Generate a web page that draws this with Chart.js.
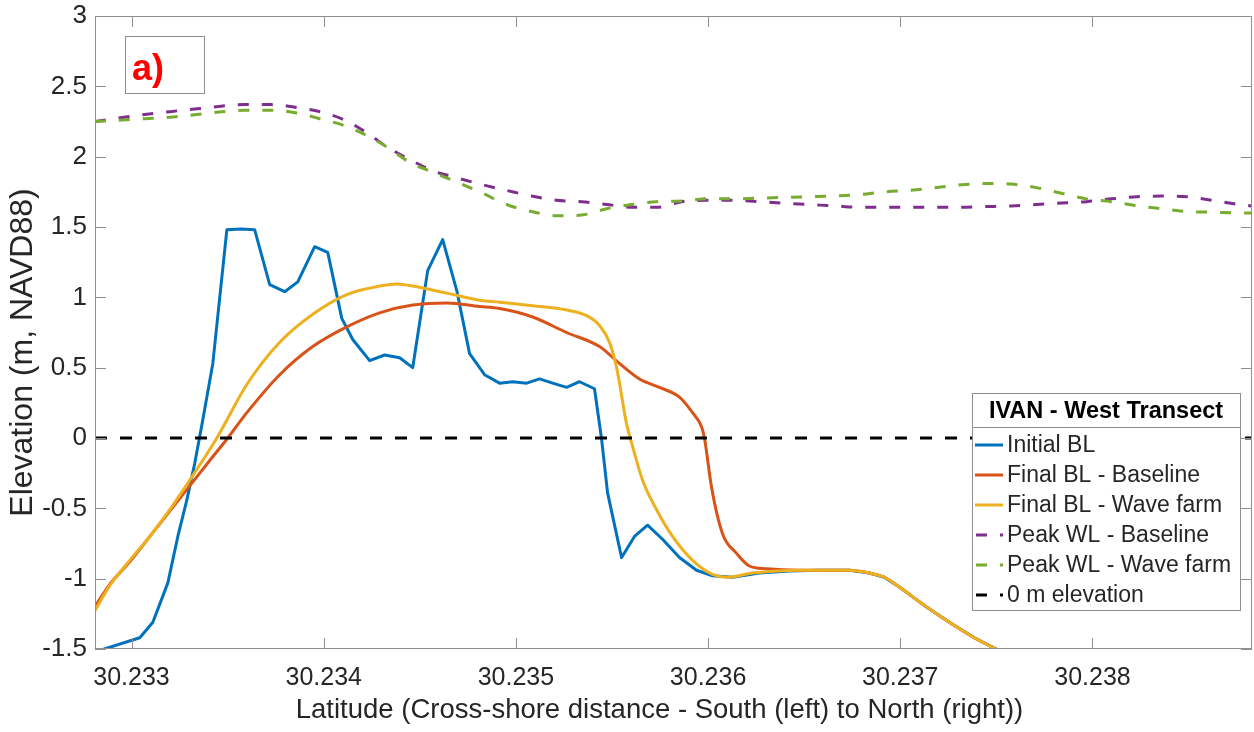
<!DOCTYPE html>
<html>
<head>
<meta charset="utf-8">
<script src="https://cdn.jsdelivr.net/npm/chart.js@4.4.1/dist/chart.umd.min.js"></script>
<style>
  html, body { margin: 0; padding: 0; background: #fff; }
  #wrap { width: 1254px; height: 732px; }
</style>
</head>
<body>
<div id="wrap"><canvas id="chart" width="1254" height="732"></canvas></div>
<script>
// DATA (latitude, elevation m NAVD88)
const initLat = [30.232835, 30.233043, 30.233111, 30.233189, 30.233241, 30.233288, 30.233329, 30.233371, 30.233423, 30.233496,
  30.233568, 30.233641, 30.233719, 30.233797, 30.233865, 30.233953, 30.234021, 30.234094, 30.234151, 30.234239,
  30.234317, 30.234395, 30.234463, 30.234541, 30.234619, 30.234692, 30.234759, 30.234837, 30.234915, 30.234983,
  30.235056, 30.235123, 30.235191, 30.235264, 30.235331, 30.235409, 30.235446, 30.235477, 30.235550, 30.235617,
  30.235685, 30.235763, 30.235851, 30.235940, 30.236023, 30.236127, 30.236267, 30.236423, 30.236579, 30.236735,
  30.236839, 30.236917, 30.236995, 30.237125, 30.237255, 30.237385, 30.237541];
const initElev = [-1.51, -1.42, -1.31, -1.03, -0.70, -0.44, -0.18, 0.13, 0.53, 1.48,
  1.485, 1.48, 1.09, 1.04, 1.11, 1.36, 1.32, 0.85, 0.70, 0.55,
  0.59, 0.57, 0.50, 1.19, 1.41, 1.05, 0.60, 0.45, 0.39, 0.40,
  0.39, 0.42, 0.39, 0.36, 0.40, 0.35, -0.01, -0.39, -0.85, -0.70,
  -0.62, -0.72, -0.85, -0.94, -0.98, -0.99, -0.96, -0.945, -0.94, -0.94,
  -0.96, -0.99, -1.06, -1.19, -1.31, -1.42, -1.53];

const baseLat = [30.232809, 30.232887, 30.232991, 30.233095, 30.233199, 30.233303, 30.233407, 30.233501, 30.233600, 30.233771,
  30.233943, 30.234120, 30.234291, 30.234463, 30.234640, 30.234811, 30.234915, 30.235087, 30.235264, 30.235435,
  30.235539, 30.235643, 30.235747, 30.235851, 30.235919, 30.235966, 30.235981, 30.236018, 30.236075, 30.236148,
  30.236215, 30.236304, 30.236475, 30.236579, 30.236735, 30.236839, 30.236917, 30.236995, 30.237125, 30.237255,
  30.237385, 30.237541];
const baseElev = [-1.20, -1.04, -0.88, -0.70, -0.52, -0.34, -0.16, 0.0, 0.18, 0.45,
  0.65, 0.79, 0.89, 0.945, 0.96, 0.935, 0.92, 0.86, 0.75, 0.65,
  0.53, 0.42, 0.36, 0.29, 0.18, 0.08, 0.0, -0.35, -0.68, -0.82,
  -0.91, -0.93, -0.94, -0.94, -0.94, -0.96, -0.99, -1.06, -1.19, -1.31,
  -1.42, -1.53];

const farmLat = [30.232809, 30.232887, 30.232991, 30.233095, 30.233199, 30.233303, 30.233444, 30.233600, 30.233771, 30.233943,
  30.234120, 30.234291, 30.234380, 30.234463, 30.234640, 30.234811, 30.234915, 30.235087, 30.235264, 30.235368,
  30.235435, 30.235487, 30.235524, 30.235576, 30.235607, 30.235659, 30.235732, 30.235815, 30.235919, 30.236023,
  30.236096, 30.236231, 30.236356, 30.236475, 30.236579, 30.236735, 30.236839, 30.236917, 30.236995, 30.237125,
  30.237255, 30.237385, 30.237541];
const farmElev = [-1.23, -1.05, -0.87, -0.70, -0.51, -0.30, 0.0, 0.38, 0.68, 0.88,
  1.02, 1.08, 1.095, 1.08, 1.03, 0.98, 0.965, 0.94, 0.91, 0.87,
  0.80, 0.68, 0.50, 0.10, -0.06, -0.30, -0.51, -0.70, -0.87, -0.97,
  -0.99, -0.96, -0.945, -0.94, -0.94, -0.94, -0.96, -0.99, -1.06, -1.19,
  -1.31, -1.42, -1.53];

const wlLat = [30.232809, 30.233069, 30.233199, 30.233340, 30.233475, 30.233589, 30.233730, 30.233860, 30.233979, 30.234109,
  30.234224, 30.234328, 30.234447, 30.234567, 30.234692, 30.234827, 30.234952, 30.235082, 30.235212, 30.235342,
  30.235472, 30.235602, 30.235732, 30.235862, 30.235992, 30.236127, 30.236257, 30.236387, 30.236517, 30.236657,
  30.236787, 30.236917, 30.237047, 30.237188, 30.237318, 30.237448, 30.237578, 30.237708, 30.237838, 30.237968,
  30.238098, 30.238233, 30.238363, 30.238493, 30.238623, 30.238763, 30.238826];
const wlBase = [2.25, 2.30, 2.32, 2.34, 2.36, 2.37, 2.37, 2.35, 2.32, 2.26,
  2.17, 2.07, 1.98, 1.90, 1.85, 1.80, 1.76, 1.72, 1.69, 1.68,
  1.66, 1.64, 1.64, 1.68, 1.69, 1.69, 1.68, 1.67, 1.66, 1.65,
  1.64, 1.64, 1.64, 1.64, 1.64, 1.645, 1.65, 1.66, 1.67, 1.68,
  1.70, 1.715, 1.72, 1.715, 1.69, 1.66, 1.65];
const wlFarm = [2.25, 2.27, 2.28, 2.30, 2.32, 2.33, 2.33, 2.31, 2.27, 2.22,
  2.15, 2.07, 1.96, 1.89, 1.82, 1.74, 1.66, 1.61, 1.58, 1.585,
  1.63, 1.66, 1.68, 1.685, 1.70, 1.70, 1.705, 1.71, 1.715, 1.72,
  1.73, 1.75, 1.76, 1.78, 1.80, 1.81, 1.805, 1.78, 1.74, 1.70,
  1.68, 1.65, 1.63, 1.61, 1.605, 1.60, 1.60];

const zeroLat = [30.23281, 30.23883];
const zeroElev = [0, 0];

const X_MIN = 30.23281, X_MAX = 30.23883;
const Y_MIN = -1.5, Y_MAX = 3;

const X_TITLE = "Latitude (Cross-shore distance - South (left) to North (right))";
const Y_TITLE = "Elevation (m, NAVD88)";

const FONT = "'Liberation Sans', Arial, Helvetica, sans-serif";
const INK = "#262626";

function pts(xs, ys) {
  return xs.map((x, i) => ({ x: x, y: ys[i] }));
}

// MATLAB style box with inward ticks
const boxPlugin = {
  id: "box",
  afterDatasetsDraw(chart) {
    const { ctx, chartArea: a, scales } = chart;
    ctx.save();
    ctx.strokeStyle = "#8f8f8f";
    ctx.lineWidth = 1;
    ctx.strokeRect(a.left + 0.5, a.top + 0.5, a.right - a.left - 1, a.bottom - a.top - 1);
    ctx.beginPath();
    scales.x.ticks.forEach(t => {
      const px = Math.round(scales.x.getPixelForValue(t.value)) + 0.5;
      ctx.moveTo(px, a.bottom); ctx.lineTo(px, a.bottom - 11);
      ctx.moveTo(px, a.top); ctx.lineTo(px, a.top + 11);
    });
    scales.y.ticks.forEach(t => {
      const py = Math.round(scales.y.getPixelForValue(t.value)) + 0.5;
      ctx.moveTo(a.left, py); ctx.lineTo(a.left + 11, py);
      ctx.moveTo(a.right, py); ctx.lineTo(a.right - 11, py);
    });
    ctx.stroke();
    ctx.restore();
  }
};

// axis titles (placed like the MATLAB export)
const titlePlugin = {
  id: "axisTitles",
  afterDraw(chart) {
    const { ctx, chartArea: a } = chart;
    ctx.save();
    ctx.fillStyle = INK;
    ctx.textAlign = "center";
    ctx.textBaseline = "middle";
    ctx.font = "27.5px " + FONT;
    ctx.fillText(X_TITLE, (a.left + a.right) / 2 - 14, chart.height - 22);
    ctx.translate(23, (a.top + a.bottom) / 2 + 20);
    ctx.rotate(-Math.PI / 2);
    ctx.font = "32px " + FONT;
    ctx.fillText(Y_TITLE, 0, 0);
    ctx.restore();
  }
};

// panel label "a)"
const panelPlugin = {
  id: "panel",
  afterDraw(chart) {
    const { ctx, chartArea: a } = chart;
    const x = a.left + 30, y = a.top + 20;
    ctx.save();
    ctx.fillStyle = "#fff";
    ctx.fillRect(x, y, 79, 57);
    ctx.strokeStyle = "#8f8f8f";
    ctx.lineWidth = 1;
    ctx.strokeRect(x + 0.5, y + 0.5, 79, 57);
    ctx.fillStyle = "#ff0000";
    ctx.font = "bold 36px " + FONT;
    ctx.textBaseline = "alphabetic";
    ctx.fillText("a)", x + 7, y + 44);
    ctx.restore();
  }
};

// legend with title, bottom right
const legendPlugin = {
  id: "boxLegend",
  afterDraw(chart) {
    const { ctx, chartArea: a } = chart;
    const w = 268, h = 217;
    const left = a.right - 12 - w, top = a.bottom - 39 - h;
    ctx.save();
    ctx.fillStyle = "#fff";
    ctx.fillRect(left, top, w, h);
    ctx.strokeStyle = "#8f8f8f";
    ctx.lineWidth = 1;
    ctx.strokeRect(left + 0.5, top + 0.5, w, h);
    ctx.beginPath();
    ctx.moveTo(left, top + 34.5); ctx.lineTo(left + w, top + 34.5);
    ctx.stroke();

    ctx.fillStyle = "#000";
    ctx.font = "bold 23.5px " + FONT;
    ctx.textAlign = "center";
    ctx.textBaseline = "middle";
    ctx.fillText("IVAN - West Transect", left + w / 2, top + 19);

    ctx.textAlign = "left";
    ctx.font = "23px " + FONT;
    chart.data.datasets.forEach((ds, i) => {
      const cy = top + 52 + i * 30;
      ctx.strokeStyle = ds.borderColor;
      ctx.lineWidth = 3;
      ctx.beginPath();
      if (ds.borderDash && ds.borderDash.length) {
        ctx.moveTo(left + 4, cy); ctx.lineTo(left + 15, cy);
        ctx.moveTo(left + 28, cy); ctx.lineTo(left + 31, cy);
      } else {
        ctx.moveTo(left + 3, cy); ctx.lineTo(left + 31, cy);
      }
      ctx.stroke();
      ctx.fillStyle = INK;
      ctx.fillText(ds.label, left + 35, cy + 1);
    });
    ctx.restore();
  }
};

const lineBase = { pointRadius: 0, fill: false, borderJoinStyle: "round", borderCapStyle: "butt" };

new Chart(document.getElementById("chart"), {
  type: "line",
  data: {
    datasets: [
      Object.assign({ label: "Initial BL", data: pts(initLat, initElev), borderColor: "#0072BD", borderWidth: 3, tension: 0, order: 6 }, lineBase),
      Object.assign({ label: "Final BL - Baseline", data: pts(baseLat, baseElev), borderColor: "#D95319", borderWidth: 3, cubicInterpolationMode: "monotone", order: 5 }, lineBase),
      Object.assign({ label: "Final BL - Wave farm", data: pts(farmLat, farmElev), borderColor: "#EDB120", borderWidth: 3, cubicInterpolationMode: "monotone", order: 4 }, lineBase),
      Object.assign({ label: "Peak WL - Baseline", data: pts(wlLat, wlBase), borderColor: "#7E2F8E", borderWidth: 3, borderDash: [11, 13], cubicInterpolationMode: "monotone", order: 3 }, lineBase),
      Object.assign({ label: "Peak WL - Wave farm", data: pts(wlLat, wlFarm), borderColor: "#77AC30", borderWidth: 3, borderDash: [11, 13], cubicInterpolationMode: "monotone", order: 2 }, lineBase),
      Object.assign({ label: "0 m elevation", data: pts(zeroLat, zeroElev), borderColor: "#000000", borderWidth: 3, borderDash: [12, 13], order: 1 }, lineBase)
    ]
  },
  options: {
    responsive: false,
    animation: false,
    devicePixelRatio: 1,
    layout: { padding: { top: 16, right: 2, left: 0, bottom: 0 } },
    plugins: {
      legend: { display: false },
      tooltip: { enabled: false }
    },
    scales: {
      x: {
        type: "linear",
        min: X_MIN,
        max: X_MAX,
        grid: { display: false, drawTicks: false },
        border: { display: false },
        ticks: {
          stepSize: 0.001,
          includeBounds: false,
          padding: 14,
          color: INK,
          font: { family: FONT, size: 25 },
          callback: v => v.toFixed(3),
          maxRotation: 0
        },
        afterFit: s => { s.height = 83; }
      },
      y: {
        min: Y_MIN,
        max: Y_MAX,
        grid: { display: false, drawTicks: false },
        border: { display: false },
        ticks: {
          stepSize: 0.5,
          padding: 8,
          color: INK,
          font: { family: FONT, size: 26, lineHeight: 0.5 },
          callback: v => String(Math.round(v * 10) / 10)
        },
        afterFit: s => { s.width = 95; }
      }
    }
  },
  plugins: [boxPlugin, titlePlugin, panelPlugin, legendPlugin]
});
</script>
</body>
</html>
